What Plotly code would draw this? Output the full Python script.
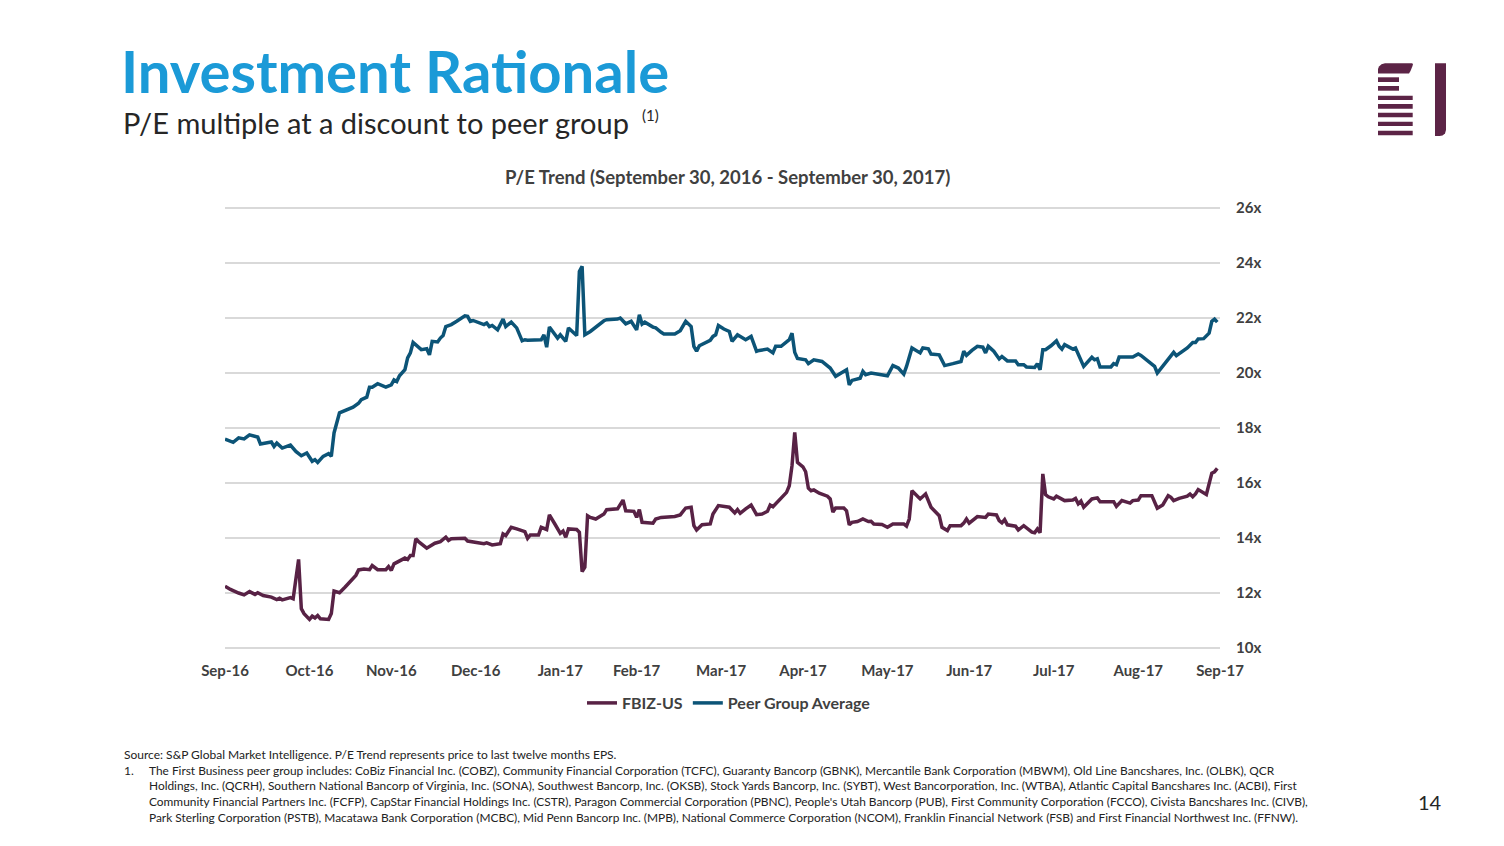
import pandas as pd
import plotly.graph_objects as go

# ---------------- data ----------------
start_date = "2016-09-30"

peer_days = [0, 3, 5, 7, 9, 12, 13, 17, 18, 19, 21, 24, 26, 28, 30, 32, 33, 34, 36, 38, 39, 40, 42, 45, 47, 49, 50, 52,
             53, 54, 56, 59, 61, 62, 63, 64, 66, 67, 68, 69, 70, 72, 74, 75, 76, 78, 79, 80, 81, 83, 85, 86, 88, 89, 90,
             91, 93, 95, 96, 97, 98, 100, 102, 103, 105, 107, 109, 110, 111, 116, 117, 118, 119, 122, 123, 125, 126,
             129, 130, 131, 132, 134, 139, 140, 144, 145, 147, 149, 151, 152, 153, 154, 157, 158, 160, 161, 165, 167,
             169, 171, 172, 173, 174, 177, 178, 179, 180, 181, 183, 185, 186, 188,
             189, 191, 193, 195, 196, 199, 201, 202, 204, 207, 208, 209, 210, 213, 214, 216, 219, 222, 224, 226, 228,
             229, 230, 233, 234, 235, 237, 243, 245, 247, 249, 250, 252, 255, 256, 258, 259, 262, 264, 267, 270, 271,
             272, 274, 276, 278, 279, 280, 282, 284, 285, 287, 290, 291, 293, 294, 297, 298, 299, 300, 301, 303, 305,
             306, 307, 308, 311, 312, 315, 318, 319, 320, 321, 325, 326, 327, 328, 333, 335, 336, 341, 342, 346, 348,
             349, 353, 355, 356, 357, 359, 361, 362, 363, 364]
peer_pe = [17.60, 17.48, 17.64, 17.60, 17.75, 17.67, 17.42, 17.49, 17.33, 17.45, 17.27, 17.38, 17.15, 16.99, 17.09,
           16.79, 16.85, 16.75, 16.97, 17.07, 16.97, 17.82, 18.55, 18.69, 18.76, 18.90, 19.03, 19.12, 19.48, 19.48,
           19.61, 19.49, 19.57, 19.75, 19.69, 19.90, 20.12, 20.55, 20.73, 21.11, 21.03, 20.85, 20.88, 20.66, 21.15,
           21.13, 21.27, 21.36, 21.69, 21.76, 21.88, 21.96, 22.08, 22.06, 21.88, 21.91, 21.84, 21.76, 21.82, 21.69,
           21.73, 21.57, 21.96, 21.69, 21.85, 21.64, 21.17, 21.21, 21.19, 21.21, 21.39, 20.94, 21.67, 21.27, 21.39,
           21.15, 21.64, 21.36, 23.69, 23.88, 21.39, 21.51, 21.90, 21.94, 21.96, 22.00, 21.79, 21.88, 21.57, 22.12,
           21.78, 21.85, 21.67, 21.64, 21.48, 21.42, 21.42, 21.54, 21.88, 21.69, 20.97, 20.79, 20.99, 21.13, 21.19,
           21.33, 21.39, 21.73, 21.60, 21.51, 21.15, 21.39,
           21.33, 21.21, 21.33, 20.79, 20.82, 20.87,
           20.73, 20.97, 20.97, 21.21, 21.45, 20.75, 20.53, 20.48, 20.34, 20.48, 20.42, 20.18, 19.88, 20.00, 20.12,
           19.57, 19.73, 19.81, 20.06, 19.94, 20.00, 19.90, 20.27, 20.18, 19.96, 20.24, 20.91, 20.73, 20.91, 20.88,
           20.69, 20.66, 20.27, 20.34, 20.42, 20.79, 20.64, 20.82, 20.97, 20.94, 20.73, 20.97, 20.79, 20.51, 20.60,
           20.44, 20.44, 20.30, 20.30, 20.22, 20.20, 20.34, 20.12, 20.85, 20.85, 20.99, 21.17, 20.97, 20.87, 21.03,
           20.87, 20.91, 20.24, 20.57, 20.48, 20.52, 20.22, 20.22, 20.34, 20.30, 20.58, 20.58, 20.69, 20.64, 20.24,
           20.00, 20.48, 20.75, 20.63, 20.91, 21.11, 21.11, 21.24, 21.25, 21.45, 21.88, 21.96, 21.85]

fbiz_days = [0, 2, 5, 7, 9, 11, 12, 14, 17, 19, 20, 21, 24, 25, 27, 28, 29, 31, 32, 33, 34, 35, 38, 39, 40, 42, 44, 46,
             48, 49, 51, 53, 54, 56, 59, 60, 61, 62, 63, 66, 67, 68, 69, 70, 71, 74, 77, 79, 81, 82, 83, 88, 89, 92, 95,
             96, 98, 101, 102, 103, 105, 107, 110, 111, 112, 115, 116, 118, 119, 121, 123, 124, 125, 126, 129, 130,
             131, 132, 133, 134, 136, 139, 140, 144, 146, 147, 150, 151, 152, 153, 157, 158, 160, 165, 167, 169, 171,
             172, 173, 175, 178, 179, 181, 185, 187, 188,
             189, 191, 193, 195, 197, 199, 200, 201, 204, 206, 207,
             208, 209, 210, 212, 213, 214, 215, 216, 218, 221, 222, 223, 224, 227, 228, 229, 230, 232, 234, 236, 237,
             238, 241, 243, 245, 249, 250, 251, 252, 255, 257, 259, 262, 263, 265, 266, 270, 271, 272, 273, 276, 279,
             280, 283, 284, 285, 286, 287, 290, 291, 293, 296, 297, 298, 299, 300, 301, 302, 304, 305, 308, 311, 312,
             313, 314, 315, 317, 318, 320, 321, 326, 327, 329, 332, 333, 335, 336, 340, 342, 344, 346, 347, 348, 350,
             353, 354, 355, 356, 357, 360, 362, 363, 364]
fbiz_pe = [12.25, 12.13, 12.00, 11.93, 12.05, 11.95, 12.01, 11.91, 11.85, 11.76, 11.81, 11.75, 11.83, 11.79, 13.22,
           11.43, 11.25, 11.04, 11.16, 11.09, 11.18, 11.06, 11.04, 11.25, 12.07, 12.01, 12.21, 12.43, 12.64, 12.84,
           12.87, 12.85, 13.00, 12.85, 12.85, 12.96, 12.82, 13.06, 13.12, 13.27, 13.22, 13.36, 13.36, 13.97, 13.87,
           13.63, 13.81, 13.87, 14.03, 13.91, 13.97, 13.99, 13.89, 13.85, 13.79, 13.82, 13.75, 13.79, 14.15, 14.09,
           14.39, 14.33, 14.23, 13.99, 14.11, 14.11, 14.39, 14.31, 14.84, 14.51, 14.17, 14.25, 14.03, 14.33, 14.31,
           14.21, 12.78, 12.94, 14.81, 14.75, 14.69, 14.87, 15.03, 15.06, 15.38, 14.99, 14.97, 14.75, 15.03, 14.57,
           14.54, 14.69, 14.75, 14.78, 14.84, 15.09, 15.12, 14.45, 14.29, 14.48, 14.51, 14.87, 15.18, 15.12, 14.91,
           15.03,
           14.90, 15.06, 15.20, 14.85, 14.87, 14.97, 15.20, 15.14, 15.48, 15.66, 15.90, 16.63,
           17.84, 16.75, 16.59, 16.41, 15.81, 15.72, 15.75, 15.63, 15.52, 15.42, 14.94, 15.09, 15.09, 14.99, 14.48,
           14.57, 14.60, 14.69, 14.60, 14.61, 14.51, 14.49, 14.39, 14.51, 14.51, 14.43, 14.69, 15.72, 15.42, 15.60,
           15.12, 14.81, 14.39, 14.27, 14.45, 14.45, 14.54, 14.69, 14.54, 14.78, 14.75, 14.87, 14.84, 14.63, 14.55,
           14.67, 14.48, 14.43, 14.29, 14.45, 14.21, 14.19, 14.33, 14.19, 16.33, 15.58, 15.50, 15.42, 15.52, 15.36,
           15.38, 15.44, 15.24, 15.34, 15.12, 15.30, 15.42, 15.46, 15.32, 15.32, 15.15, 15.36, 15.27, 15.36, 15.38,
           15.54, 15.54, 15.08, 15.20, 15.54, 15.48, 15.36, 15.44, 15.52, 15.60, 15.50, 15.60, 15.76, 15.58, 16.36,
           16.41, 16.53]

tick_dates = ["2016-09-30", "2016-10-31", "2016-11-30", "2016-12-31", "2017-01-31", "2017-02-28", "2017-03-31",
              "2017-04-30", "2017-05-31", "2017-06-30", "2017-07-31", "2017-08-31", "2017-09-30"]
tick_labels = ["Sep-16", "Oct-16", "Nov-16", "Dec-16", "Jan-17", "Feb-17", "Mar-17", "Apr-17", "May-17",
               "Jun-17", "Jul-17", "Aug-17", "Sep-17"]
y_ticks = [10, 12, 14, 16, 18, 20, 22, 24, 26]
y_labels = ["10x", "12x", "14x", "16x", "18x", "20x", "22x", "24x", "26x"]
series_names = ["FBIZ-US", "Peer Group Average"]

assert len(peer_days) == len(peer_pe), (len(peer_days), len(peer_pe))
assert len(fbiz_days) == len(fbiz_pe), (len(fbiz_days), len(fbiz_pe))

# ---------------- helpers ----------------
W, H = 1504, 846
FONT = "Lato"


def px(x):
    return x / W


def py(y):
    return 1 - y / H


t0 = pd.Timestamp(start_date)
fbiz_dates = [t0 + pd.Timedelta(days=d) for d in fbiz_days]
peer_dates = [t0 + pd.Timedelta(days=d) for d in peer_days]

PURPLE = "#582245"
BLUE = "#0C5477"

fig = go.Figure()
fig.add_trace(go.Scatter(x=fbiz_dates, y=fbiz_pe, mode="lines", name=series_names[0],
                         line=dict(color=PURPLE, width=3.5)))
fig.add_trace(go.Scatter(x=peer_dates, y=peer_pe, mode="lines", name=series_names[1],
                         line=dict(color=BLUE, width=3.5)))

fig.update_layout(
    width=W, height=H,
    margin=dict(l=0, r=0, t=0, b=0),
    paper_bgcolor="white", plot_bgcolor="white",
    hovermode=False,
    font=dict(family=FONT, color="#404040"),
    xaxis=dict(domain=[px(225), px(1220)], type="date",
               range=[tick_dates[0], tick_dates[-1]],
               tickvals=tick_dates, ticktext=tick_labels,
               showgrid=False, showline=False, zeroline=False, ticks="",
               tickfont=dict(family=FONT, size=15, color="#404040", weight="bold"),
               automargin=False, ticklabelstandoff=9),
    yaxis=dict(domain=[py(650.75), py(205.25)], range=[9.9, 26.1], side="right",
               tickvals=y_ticks, ticktext=y_labels,
               showgrid=True, gridcolor="#D9D9D9", gridwidth=1.5,
               zeroline=False, showline=False, ticks="",
               tickfont=dict(family=FONT, size=15, color="#404040", weight="bold"),
               automargin=False, ticklabelstandoff=15),
    showlegend=True,
    legend=dict(orientation="h", x=px(729), xanchor="center", y=py(703), yanchor="middle",
                font=dict(family=FONT, size=16, color="#404040", weight="bold"),
                itemwidth=30, bgcolor="rgba(0,0,0,0)"),
)

annotations = [
    dict(text="<b>Investment Rationale</b>", x=px(119), y=py(70), xanchor="left", yanchor="middle",
         font=dict(family=FONT, size=58, color="#1B9AD7")),
    dict(text="P/E multiple at a discount to peer group", x=px(121), y=py(123), xanchor="left",
         yanchor="middle", font=dict(family=FONT, size=29, color="#262626")),
    dict(text="(1)", x=px(640), y=py(115), xanchor="left", yanchor="middle",
         font=dict(family=FONT, size=15, color="#262626")),
    dict(text="<b>P/E Trend (September 30, 2016 - September 30, 2017)</b>", x=px(727), y=py(177),
         xanchor="center", yanchor="middle", font=dict(family=FONT, size=18.5, color="#404040")),
    dict(text="Source: S&P Global Market Intelligence. P/E Trend represents price to last twelve months EPS.",
         x=px(122), y=py(754), xanchor="left", yanchor="middle", font=dict(family=FONT, size=12, color="#222222")),
    dict(text="1.", x=px(122), y=py(770), xanchor="left", yanchor="middle",
         font=dict(family=FONT, size=12, color="#222222")),
    dict(text="14", x=px(1430), y=py(802), xanchor="center", yanchor="middle",
         font=dict(family=FONT, size=20, color="#262626")),
]
foot_lines = [
    "The First Business peer group includes: CoBiz Financial Inc. (COBZ), Community Financial Corporation (TCFC), Guaranty Bancorp (GBNK), Mercantile Bank Corporation (MBWM), Old Line Bancshares, Inc. (OLBK), QCR",
    "Holdings, Inc. (QCRH), Southern National Bancorp of Virginia, Inc. (SONA), Southwest Bancorp, Inc. (OKSB), Stock Yards Bancorp, Inc. (SYBT), West Bancorporation, Inc. (WTBA), Atlantic Capital Bancshares Inc. (ACBI), First",
    "Community Financial Partners Inc. (FCFP), CapStar Financial Holdings Inc. (CSTR), Paragon Commercial Corporation (PBNC), People's Utah Bancorp (PUB), First Community Corporation (FCCO), Civista Bancshares Inc. (CIVB),",
    "Park Sterling Corporation (PSTB), Macatawa Bank Corporation (MCBC), Mid Penn Bancorp Inc. (MPB), National Commerce Corporation (NCOM), Franklin Financial Network (FSB) and First Financial Northwest Inc. (FFNW).",
]
for i, line in enumerate(foot_lines):
    annotations.append(dict(text=line, x=px(147), y=py(770 + i * 15.7), xanchor="left", yanchor="middle",
                            font=dict(family=FONT, size=11.9, color="#222222")))
for a in annotations:
    a.update(xref="paper", yref="paper", showarrow=False)
fig.update_layout(annotations=annotations)

# ---------------- logo ----------------
LOGO = "#5C2446"


def path(points):
    return "M " + " L ".join(f"{px(x):.5f},{py(y):.5f}" for x, y in points) + " Z"


shapes = []
top_pts = [(1378, 73.5), (1378, 69), (1379, 66.5), (1381.5, 64.2), (1385, 63.3), (1412, 63.3), (1413, 64),
           (1412.5, 66), (1410.5, 71), (1409, 73.5)]
shapes.append(dict(type="path", path=path(top_pts), fillcolor=LOGO, line=dict(width=0)))
for y0, y1 in [(77.3, 82), (86, 90.7)]:
    shapes.append(dict(type="rect", x0=px(1378), x1=px(1399), y0=py(y1), y1=py(y0), fillcolor=LOGO,
                       line=dict(width=0)))
for y0, y1 in [(95.7, 100), (104, 108.7), (112.7, 117.3), (121.7, 126), (130.7, 135.3)]:
    shapes.append(dict(type="rect", x0=px(1378), x1=px(1412.7), y0=py(y1), y1=py(y0), fillcolor=LOGO,
                       line=dict(width=0)))
vert_pts = [(1435, 63.3), (1446, 63.3), (1446, 130), (1445, 133.5), (1442.5, 135.5), (1439.5, 136), (1435, 136)]
shapes.append(dict(type="path", path=path(vert_pts), fillcolor=LOGO, line=dict(width=0)))
for s in shapes:
    s.update(xref="paper", yref="paper")
fig.update_layout(shapes=shapes)

fig.write_html("out.html")
